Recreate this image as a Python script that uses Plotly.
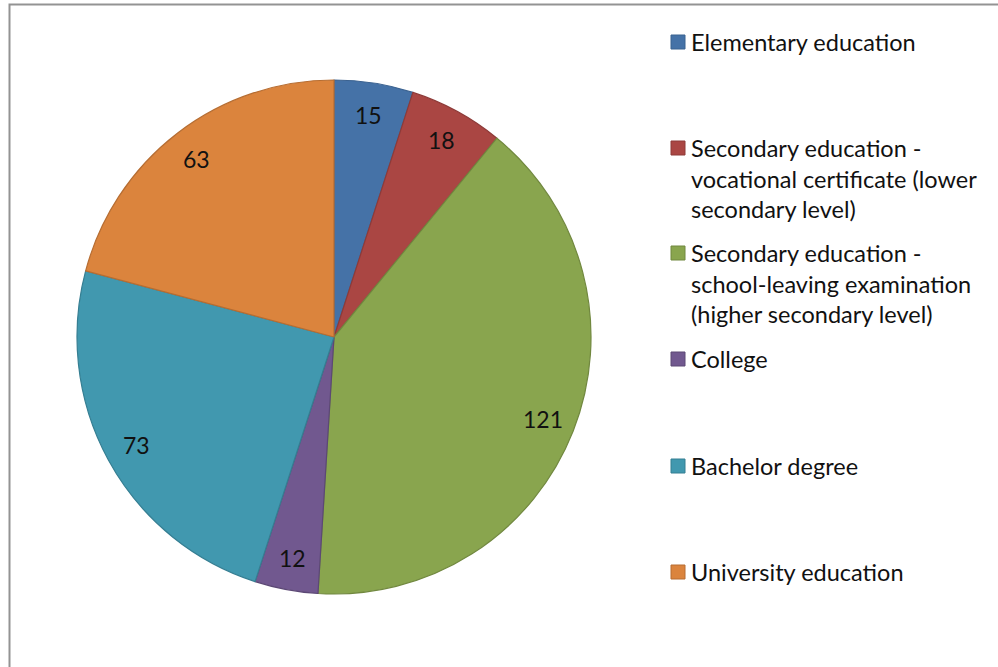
import math
import plotly.graph_objects as go

# Education levels and counts
categories = [
    "Elementary education",
    "Secondary education - vocational certificate (lower secondary level)",
    "Secondary education - school-leaving examination (higher secondary level)",
    "College",
    "Bachelor degree",
    "University education",
]
legend_lines = [
    ["Elementary education"],
    ["Secondary education -", "vocational certificate (lower", "secondary level)"],
    ["Secondary education -", "school-leaving examination", "(higher secondary level)"],
    ["College"],
    ["Bachelor degree"],
    ["University education"],
]
counts = [15, 18, 121, 12, 73, 63]

fill_colors = ["#4572A7", "#AA4643", "#89A54E", "#71588F", "#4198AF", "#DB843D"]
edge_colors = ["#3B6290", "#8E3A38", "#71883F", "#5C4875", "#357E92", "#B66D32"]

W, H = 998, 667
CX, CY, R = 334, 337, 257  # pie centre and radius in pixels
FONT = "Lato"

fig = go.Figure()
fig.add_trace(go.Pie(
    labels=categories,
    values=counts,
    sort=False,
    direction="clockwise",
    rotation=0,
    textinfo="none",
    hoverinfo="label+value",
    marker=dict(colors=fill_colors, line=dict(color=edge_colors, width=1.2)),
    domain=dict(x=[(CX - R) / W, (CX + R) / W], y=[1 - (CY + R) / H, 1 - (CY - R) / H]),
    showlegend=False,
))

annotations = []
# value labels placed along each slice's bisector
total = sum(counts)
acc = 0
for v in counts:
    mid = (acc + v / 2) / total * 2 * math.pi
    acc += v
    px = CX + 0.875 * R * math.sin(mid)
    py = CY - 0.875 * R * math.cos(mid)
    annotations.append(dict(
        x=px / W, y=1 - py / H, xref="paper", yref="paper",
        text=str(v), showarrow=False, xanchor="center", yanchor="middle",
        font=dict(family=FONT, size=23, color="#111111"),
    ))

# legend drawn as swatches plus wrapped text
legend_top = [42, 148, 253, 359, 466, 572]  # first-line centre of each entry (px)
line_h = 30.7
shapes = []
for lines, col, edge, y0 in zip(legend_lines, fill_colors, edge_colors, legend_top):
    shapes.append(dict(
        type="rect", xref="paper", yref="paper",
        x0=671 / W, x1=685 / W, y0=1 - (y0 - 7) / H, y1=1 - (y0 + 7) / H,
        fillcolor=col, line=dict(color=edge, width=1),
    ))
    for k, t in enumerate(lines):
        annotations.append(dict(
            x=689 / W, y=1 - (y0 + k * line_h) / H, xref="paper", yref="paper",
            text=t, showarrow=False, xanchor="left", yanchor="middle",
            font=dict(family=FONT, size=23.5, color="#111111"),
        ))

# chart frame
shapes.append(dict(
    type="rect", xref="paper", yref="paper",
    x0=9.5 / W, x1=1.05, y0=1 - 4.5 / H, y1=-0.05,
    line=dict(color="#939393", width=2), fillcolor="rgba(0,0,0,0)", layer="below",
))

fig.update_layout(
    width=W, height=H,
    margin=dict(l=0, r=0, t=0, b=0),
    paper_bgcolor="white", plot_bgcolor="white",
    annotations=annotations, shapes=shapes,
)

fig.write_html("out.html")
